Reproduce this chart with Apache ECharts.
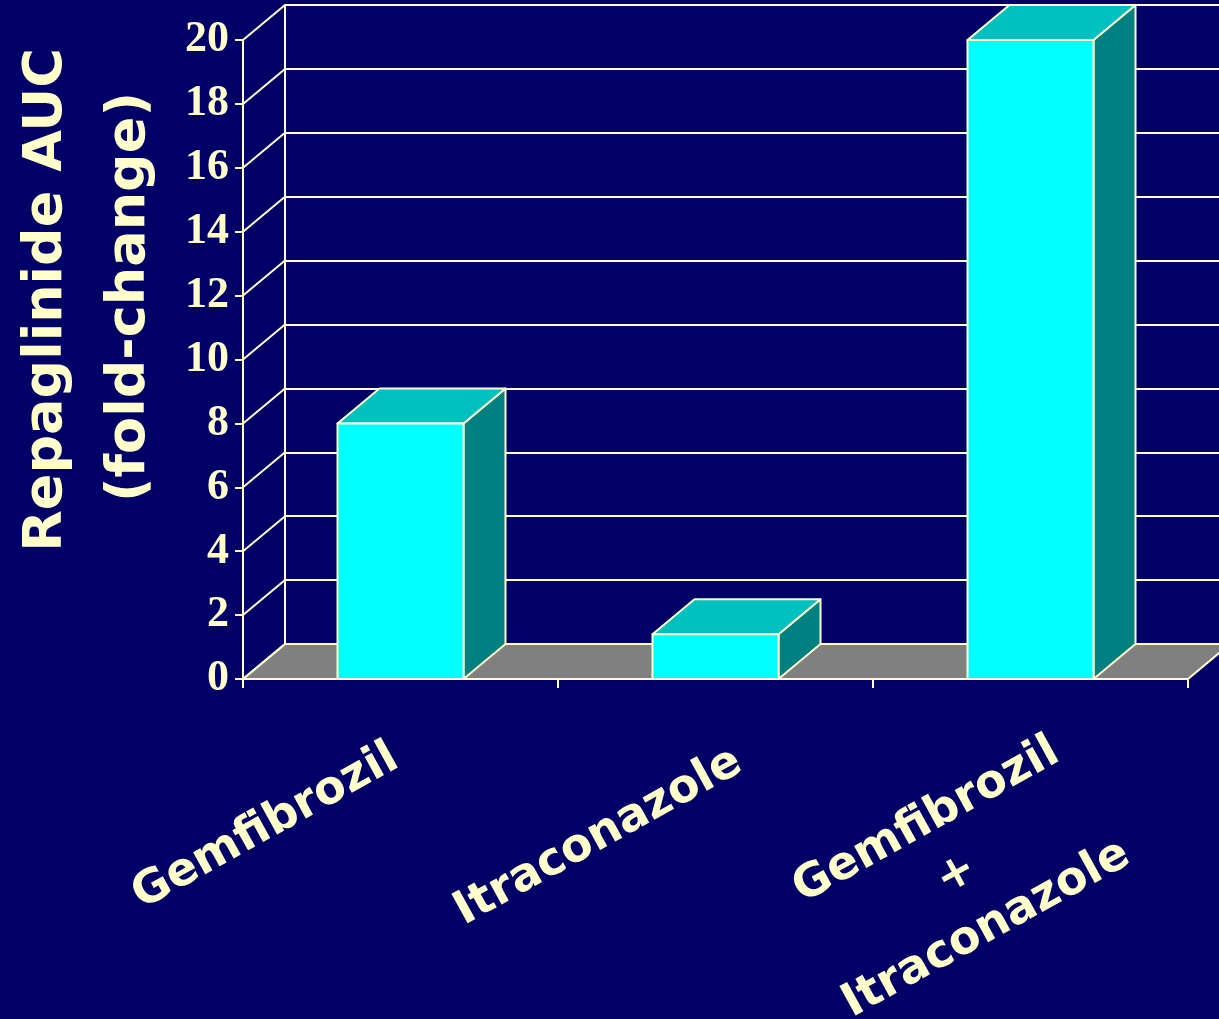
<!DOCTYPE html>
<html>
<head>
<meta charset="utf-8">
<script src="https://cdn.jsdelivr.net/npm/echarts@6/dist/echarts.min.js"></script>
<style>
  html, body { margin: 0; padding: 0; background: #000066; }
  #chart { width: 1219px; height: 1019px; }
</style>
</head>
<body>
<div id="chart"></div>
<script>
// Repaglinide exposure (AUC fold-change) by co-administered drug
const categories = ['Gemfibrozil', 'Itraconazole', 'Gemfibrozil\n+\nItraconazole'];
const aucFoldChange = [8.0, 1.4, 20.0];
const yTickValues = [0, 2, 4, 6, 8, 10, 12, 14, 16, 18, 20];
const yTitleLines = ['Repaglinide AUC', '(fold-change)'];

// Styling / layout
const CREAM = '#FFFFCC';
const DEPTH = [42, -35];                 // pseudo-3D depth offset in pixels
const FACE_FRONT = '#00FFFF';
const FACE_TOP = '#00C0C0';
const FACE_SIDE = '#008080';
const FLOOR = '#808080';
const HAND_FONT = '"Comic Sans MS", "DejaVu Sans", sans-serif';
const labelShift = [[-135, 148], [-117, 158], [-74, 196]];

const chart = echarts.init(document.getElementById('chart'), null, { renderer: 'canvas' });
const edge = { stroke: CREAM, lineWidth: 2, lineJoin: 'round' };

chart.setOption({
  backgroundColor: '#000066',
  animation: false,
  grid: [
    { left: 243, right: 31, top: 40, bottom: 340 },          // front plane
    { left: 285, right: -11, top: 5, bottom: 375 }           // back wall
  ],
  xAxis: [
    {
      gridIndex: 0, type: 'category', data: categories, boundaryGap: true,
      axisLine: { show: true, lineStyle: { color: CREAM, width: 2 } },
      axisTick: { show: true, interval: 0, length: 9, lineStyle: { color: CREAM, width: 2 } },
      axisLabel: { show: false },
      splitLine: { show: false }
    },
    { gridIndex: 1, type: 'value', show: false, min: 0, max: 1 }
  ],
  yAxis: [
    {
      gridIndex: 0, type: 'value', min: 0, max: 20, interval: 2,
      axisLine: { show: true, lineStyle: { color: CREAM, width: 2 } },
      axisTick: { show: true, length: 8, lineStyle: { color: CREAM, width: 2 } },
      axisLabel: {
        color: CREAM, margin: 14,
        fontFamily: '"Times New Roman", "Liberation Serif", serif',
        fontWeight: 'bold', fontSize: 44
      },
      splitLine: { show: false }
    },
    {
      gridIndex: 1, type: 'value', min: 0, max: 20, interval: 2,
      axisLine: { show: true, onZero: false, lineStyle: { color: CREAM, width: 2 } },
      axisTick: { show: false },
      axisLabel: { show: false },
      splitLine: { show: true, lineStyle: { color: CREAM, width: 2 } }
    }
  ],
  graphic: [
    {
      type: 'text', x: 47, y: 300, rotation: Math.PI / 2,
      style: { text: yTitleLines[0], font: 'bold 54px ' + HAND_FONT, fill: CREAM, align: 'center', verticalAlign: 'middle' }
    },
    {
      type: 'text', x: 130, y: 297, rotation: Math.PI / 2,
      style: { text: yTitleLines[1], font: 'bold 54px ' + HAND_FONT, fill: CREAM, align: 'center', verticalAlign: 'middle' }
    }
  ],
  series: [
    {
      // floor and side-wall grid lines
      type: 'custom', name: 'frame', xAxisIndex: 0, yAxisIndex: 0,
      z: 1, clip: false, silent: true,
      data: yTickValues.map(v => [0, v]),
      renderItem(params, api) {
        const v = api.value(1);
        const p = api.coord([0, v]);
        const half = api.size([1, 0])[0] / 2;
        const xL = p[0] - half;
        const [dx, dy] = DEPTH;
        const children = [];
        if (v === 0) {
          const xR = api.coord([categories.length - 1, 0])[0] + half;
          children.push({
            type: 'polygon',
            shape: { points: [[xL, p[1]], [xR, p[1]], [xR + dx, p[1] + dy], [xL + dx, p[1] + dy]] },
            style: Object.assign({ fill: FLOOR }, edge)
          });
        }
        children.push({
          type: 'line',
          shape: { x1: xL, y1: p[1], x2: xL + dx, y2: p[1] + dy },
          style: { stroke: CREAM, lineWidth: 2 }
        });
        return { type: 'group', children };
      }
    },
    {
      // 3D bars
      type: 'custom', name: 'AUC fold-change', xAxisIndex: 0, yAxisIndex: 0,
      z: 5, clip: false,
      data: aucFoldChange.map((v, i) => [i, v]),
      renderItem(params, api) {
        const i = api.value(0), v = api.value(1);
        const base = api.coord([i, 0]);
        const top = api.coord([i, v]);
        const w = api.size([1, 0])[0] * 0.4;
        const x0 = base[0] - w / 2, x1 = base[0] + w / 2;
        const yb = base[1], yt = top[1];
        const [dx, dy] = DEPTH;
        return {
          type: 'group',
          children: [
            { type: 'polygon', shape: { points: [[x1, yb], [x1, yt], [x1 + dx, yt + dy], [x1 + dx, yb + dy]] },
              style: Object.assign({ fill: FACE_SIDE }, edge) },
            { type: 'polygon', shape: { points: [[x0, yt], [x1, yt], [x1 + dx, yt + dy], [x0 + dx, yt + dy]] },
              style: Object.assign({ fill: FACE_TOP }, edge) },
            { type: 'rect', shape: { x: x0, y: yt, width: w, height: yb - yt },
              style: Object.assign({ fill: FACE_FRONT }, edge) }
          ]
        };
      }
    },
    {
      // slanted category labels
      type: 'custom', name: 'labels', xAxisIndex: 0, yAxisIndex: 0,
      z: 6, clip: false, silent: true,
      data: categories.map((c, i) => [i, 0]),
      renderItem(params, api) {
        const i = api.value(0);
        const p = api.coord([i, 0]);
        const s = labelShift[i];
        return {
          type: 'text',
          x: p[0] + s[0], y: p[1] + s[1],
          rotation: 29 * Math.PI / 180,
          style: {
            text: categories[i], font: 'bold 46px ' + HAND_FONT, fill: CREAM,
            align: 'center', verticalAlign: 'middle', lineHeight: 62
          }
        };
      }
    }
  ]
});
</script>
</body>
</html>
